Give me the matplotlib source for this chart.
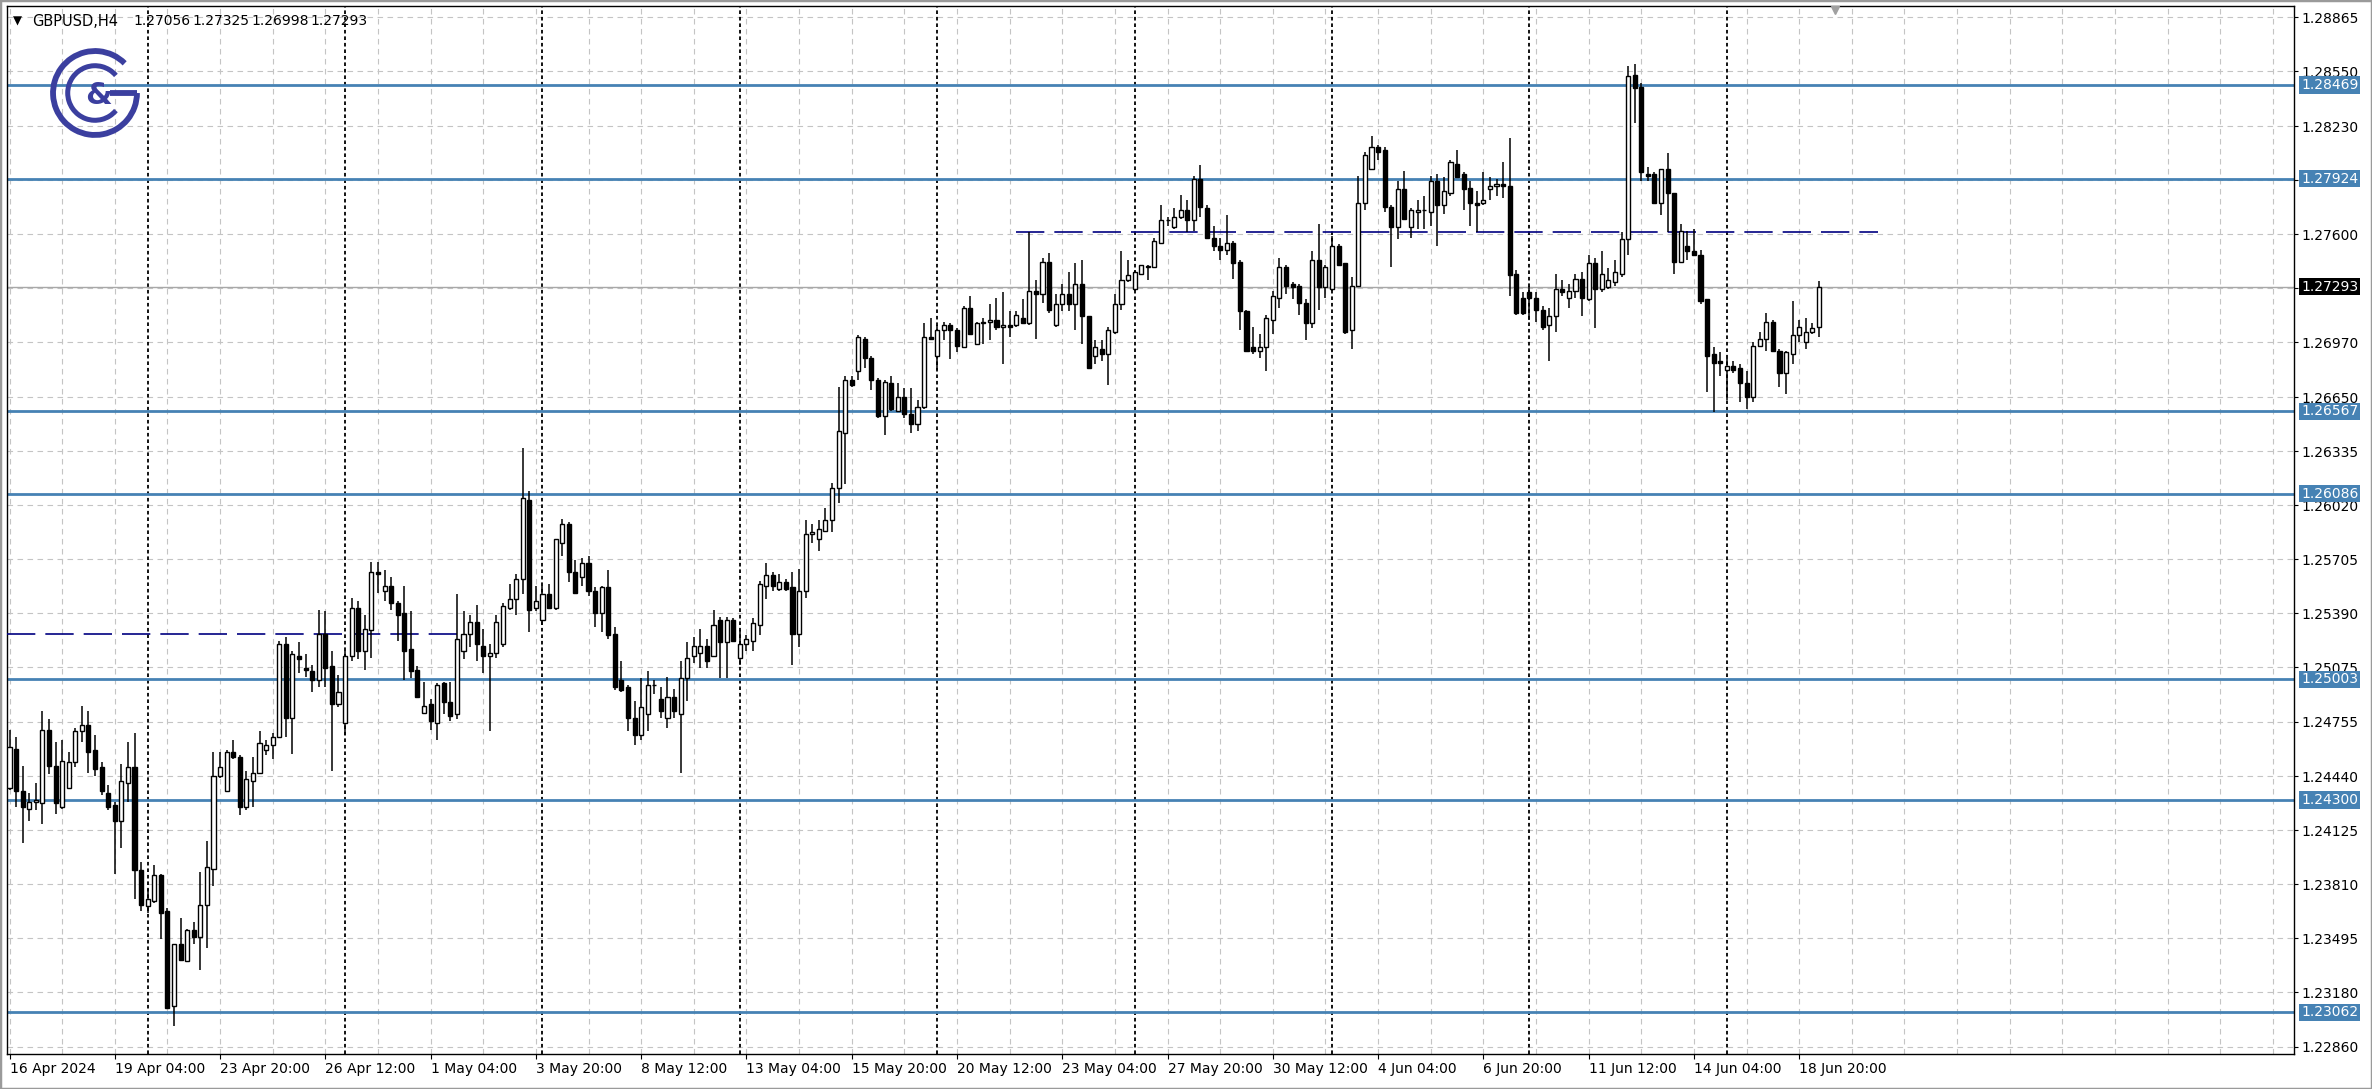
import matplotlib
matplotlib.use("Agg")
import matplotlib.pyplot as plt
from matplotlib.patches import Arc, Rectangle
from matplotlib.transforms import blended_transform_factory
import numpy as np

# GBPUSD H4 candles, 16 Apr 2024 12:00 .. 19 Jun 2024 08:00
opens = [
    1.2437, 1.2460, 1.2435, 1.2425, 1.2429, 1.2428, 1.2471, 1.2450, 1.2426, 1.2437,
    1.2452, 1.2470, 1.2474, 1.2459, 1.2449, 1.2434, 1.2427, 1.2418, 1.2440, 1.2449,
    1.2389, 1.2368, 1.2371, 1.2386, 1.2365, 1.2310, 1.2346, 1.2336, 1.2354, 1.2350,
    1.2369, 1.2390, 1.2444, 1.2435, 1.2458, 1.2455, 1.2426, 1.2441, 1.2446, 1.2459,
    1.2462, 1.2467, 1.2521, 1.2478, 1.2514, 1.2507, 1.2505, 1.2500, 1.2527, 1.2508,
    1.2486, 1.2475, 1.2514, 1.2542, 1.2517, 1.2529, 1.2563, 1.2552, 1.2555, 1.2545,
    1.2539, 1.2518, 1.2506, 1.2481, 1.2486, 1.2475, 1.2498, 1.2487, 1.2480, 1.2517,
    1.2527, 1.2534, 1.2520, 1.2514, 1.2516, 1.2521, 1.2542, 1.2547, 1.2559, 1.2605,
    1.2542, 1.2535, 1.2550, 1.2542, 1.2580, 1.2591, 1.2563, 1.2560, 1.2568, 1.2552,
    1.2539, 1.2554, 1.2527, 1.2500, 1.2496, 1.2478, 1.2468, 1.2480, 1.2497, 1.2489,
    1.2478, 1.2490, 1.2480, 1.2501, 1.2514, 1.2516, 1.2520, 1.2514, 1.2535, 1.2522,
    1.2535, 1.2513, 1.2521, 1.2523, 1.2532, 1.2555, 1.2561, 1.2553, 1.2557, 1.2554,
    1.2527, 1.2552, 1.2585, 1.2582, 1.2587, 1.2593, 1.2612, 1.2644, 1.2675, 1.2680,
    1.2699, 1.2688, 1.2675, 1.2654, 1.2673, 1.2657, 1.2665, 1.2655, 1.2649, 1.2659,
    1.2700, 1.2689, 1.2704, 1.2707, 1.2704, 1.2694, 1.2717, 1.2696, 1.2708, 1.2709,
    1.2710, 1.2706, 1.2707, 1.2707, 1.2711, 1.2708, 1.2727, 1.2725, 1.2744, 1.2707,
    1.2719, 1.2725, 1.2719, 1.2731, 1.2712, 1.2689, 1.2693, 1.2690, 1.2703, 1.2719,
    1.2733, 1.2728, 1.2737, 1.2741, 1.2741, 1.2755, 1.2768, 1.2764, 1.2770, 1.2774,
    1.2768, 1.2792, 1.2775, 1.2758, 1.2753, 1.2751, 1.2755, 1.2744, 1.2715, 1.2694,
    1.2692, 1.2694, 1.2710, 1.2723, 1.2741, 1.2731, 1.2730, 1.2720, 1.2708, 1.2745,
    1.2729, 1.2728, 1.2753, 1.2743, 1.2704, 1.2730, 1.2778, 1.2798, 1.2811, 1.2809,
    1.2776, 1.2764, 1.2786, 1.2764, 1.2773, 1.2774, 1.2773, 1.2791, 1.2777, 1.2784,
    1.2801, 1.2795, 1.2787, 1.2778, 1.2778, 1.2786, 1.2788, 1.2789, 1.2788, 1.2737,
    1.2723, 1.2726, 1.2723, 1.2716, 1.2707, 1.2712, 1.2728, 1.2723, 1.2727, 1.2734,
    1.2722, 1.2743, 1.2728, 1.2729, 1.2732, 1.2737, 1.2757, 1.2853, 1.2846, 1.2795,
    1.2795, 1.2778, 1.2798, 1.2784, 1.2744, 1.2753, 1.2750, 1.2748, 1.2722, 1.2690,
    1.2686, 1.2681, 1.2683, 1.2682, 1.2673, 1.2665, 1.2695, 1.2699, 1.2709, 1.2692,
    1.2679, 1.2690, 1.2701, 1.2697, 1.2703, 1.27056,
]
highs = [
    1.2471, 1.2467, 1.2450, 1.2434, 1.2440, 1.2482, 1.2477, 1.2464, 1.2465, 1.2458,
    1.2472, 1.2485, 1.2482, 1.2468, 1.2452, 1.2439, 1.2429, 1.2451, 1.2464, 1.2469,
    1.2394, 1.2378, 1.2392, 1.2387, 1.2367, 1.2346, 1.2361, 1.2355, 1.2359, 1.2388,
    1.2406, 1.2458, 1.2458, 1.2459, 1.2465, 1.2456, 1.2447, 1.2455, 1.2470, 1.2465,
    1.2469, 1.2523, 1.2525, 1.2517, 1.2522, 1.2515, 1.2509, 1.2541, 1.2540, 1.2517,
    1.2503, 1.2517, 1.2548, 1.2546, 1.2538, 1.2569, 1.2569, 1.2564, 1.2560, 1.2546,
    1.2555, 1.2540, 1.2508, 1.2499, 1.2489, 1.2498, 1.2499, 1.2499, 1.2550, 1.2540,
    1.2538, 1.2544, 1.2530, 1.2521, 1.2538, 1.2545, 1.2556, 1.2562, 1.2635, 1.2610,
    1.2555, 1.2555, 1.2556, 1.2582, 1.2594, 1.2592, 1.2570, 1.2571, 1.2572, 1.2554,
    1.2555, 1.2564, 1.2531, 1.2511, 1.2497, 1.2488, 1.2501, 1.2505, 1.2500, 1.2496,
    1.2502, 1.2495, 1.2511, 1.2522, 1.2525, 1.2530, 1.2524, 1.2541, 1.2537, 1.2537,
    1.2536, 1.2529, 1.2526, 1.2536, 1.2558, 1.2568, 1.2563, 1.2562, 1.2559, 1.2563,
    1.2565, 1.2593, 1.2591, 1.2593, 1.2600, 1.2615, 1.2671, 1.2677, 1.2677, 1.2701,
    1.2700, 1.2689, 1.2676, 1.2675, 1.2677, 1.2673, 1.2670, 1.2670, 1.2663, 1.2708,
    1.2711, 1.2707, 1.2709, 1.2708, 1.2705, 1.2718, 1.2724, 1.2709, 1.2711, 1.2719,
    1.2723, 1.2726, 1.2715, 1.2715, 1.2722, 1.2761, 1.2733, 1.2746, 1.2749, 1.2725,
    1.2731, 1.2738, 1.2743, 1.2745, 1.2712, 1.2698, 1.2698, 1.2706, 1.2725, 1.2750,
    1.2745, 1.2739, 1.2742, 1.2742, 1.2758, 1.2777, 1.2770, 1.2775, 1.2783, 1.2780,
    1.2794, 1.2800, 1.2777, 1.2765, 1.2758, 1.2771, 1.2756, 1.2745, 1.2716, 1.2706,
    1.2702, 1.2713, 1.2727, 1.2746, 1.2742, 1.2732, 1.2731, 1.2722, 1.2750, 1.2766,
    1.2742, 1.2759, 1.2754, 1.2743, 1.2735, 1.2794, 1.2808, 1.2817, 1.2812, 1.2811,
    1.2777, 1.2791, 1.2797, 1.2775, 1.2780, 1.2782, 1.2794, 1.2795, 1.2793, 1.2803,
    1.2809, 1.2796, 1.2791, 1.2785, 1.2796, 1.2793, 1.2792, 1.2802, 1.2816, 1.2739,
    1.2726, 1.2730, 1.2726, 1.2718, 1.2717, 1.2737, 1.2733, 1.2731, 1.2737, 1.2738,
    1.2748, 1.2746, 1.2750, 1.2740, 1.2745, 1.2761, 1.2858, 1.2859, 1.2848, 1.2799,
    1.2796, 1.2798, 1.2807, 1.2784, 1.2766, 1.2762, 1.2763, 1.2751, 1.2722, 1.2694,
    1.2691, 1.2688, 1.2686, 1.2684, 1.2680, 1.2697, 1.2703, 1.2714, 1.2710, 1.2693,
    1.2692, 1.2721, 1.2710, 1.2711, 1.2708, 1.27325,
]
lows = [
    1.2436, 1.2426, 1.2405, 1.2418, 1.2424, 1.2416, 1.2445, 1.2422, 1.2425, 1.2437,
    1.2449, 1.2464, 1.2446, 1.2444, 1.2433, 1.2424, 1.2387, 1.2402, 1.2429, 1.2372,
    1.2365, 1.2364, 1.2370, 1.2349, 1.2308, 1.2298, 1.2337, 1.2336, 1.2346, 1.2331,
    1.2344, 1.2380, 1.2443, 1.2435, 1.2454, 1.2421, 1.2424, 1.2426, 1.2445, 1.2456,
    1.2454, 1.2466, 1.2467, 1.2457, 1.2504, 1.2502, 1.2493, 1.2496, 1.2496, 1.2447,
    1.2484, 1.2468, 1.2511, 1.2512, 1.2506, 1.2513, 1.2551, 1.2546, 1.2541, 1.2523,
    1.2500, 1.2501, 1.2490, 1.2480, 1.2471, 1.2465, 1.2480, 1.2476, 1.2477, 1.2512,
    1.2519, 1.2511, 1.2504, 1.2470, 1.2513, 1.2519, 1.2541, 1.2538, 1.2550, 1.2528,
    1.2540, 1.2532, 1.2542, 1.2541, 1.2572, 1.2557, 1.2551, 1.2555, 1.2549, 1.2531,
    1.2528, 1.2524, 1.2494, 1.2493, 1.2470, 1.2462, 1.2465, 1.2470, 1.2492, 1.2478,
    1.2472, 1.2478, 1.2446, 1.2488, 1.2510, 1.2507, 1.2507, 1.2514, 1.2501, 1.2501,
    1.2522, 1.2509, 1.2517, 1.2517, 1.2526, 1.2547, 1.2552, 1.2552, 1.2552, 1.2509,
    1.2519, 1.2548, 1.2580, 1.2575, 1.2586, 1.2586, 1.2603, 1.2614, 1.2671, 1.2675,
    1.2682, 1.2669, 1.2653, 1.2643, 1.2657, 1.2656, 1.2653, 1.2644, 1.2645, 1.2658,
    1.2698, 1.2681, 1.2698, 1.2687, 1.2691, 1.2694, 1.2701, 1.2696, 1.2696, 1.2698,
    1.2704, 1.2684, 1.2700, 1.2706, 1.2708, 1.2707, 1.2699, 1.2720, 1.2714, 1.2706,
    1.2715, 1.2715, 1.2704, 1.2696, 1.2682, 1.2684, 1.2686, 1.2672, 1.2702, 1.2716,
    1.2732, 1.2727, 1.2736, 1.2733, 1.2740, 1.2754, 1.2765, 1.2763, 1.2769, 1.2761,
    1.2762, 1.2770, 1.2757, 1.2750, 1.2745, 1.2748, 1.2734, 1.2704, 1.2691, 1.2690,
    1.2688, 1.2680, 1.2702, 1.2717, 1.2725, 1.2722, 1.2713, 1.2698, 1.2705, 1.2716,
    1.2723, 1.2727, 1.2742, 1.2702, 1.2693, 1.2729, 1.2774, 1.2798, 1.2803, 1.2773,
    1.2741, 1.2757, 1.2768, 1.2758, 1.2763, 1.2763, 1.2765, 1.2753, 1.2772, 1.2782,
    1.2793, 1.2774, 1.2765, 1.2761, 1.2777, 1.2780, 1.2782, 1.2781, 1.2724, 1.2713,
    1.2713, 1.2710, 1.2709, 1.2704, 1.2686, 1.2703, 1.2724, 1.2717, 1.2723, 1.2712,
    1.2721, 1.2705, 1.2726, 1.2728, 1.2730, 1.2735, 1.2748, 1.2825, 1.2791, 1.2791,
    1.2778, 1.2771, 1.2761, 1.2737, 1.2744, 1.2745, 1.2747, 1.2719, 1.2668, 1.2656,
    1.2677, 1.2663, 1.2679, 1.2662, 1.2658, 1.2662, 1.2694, 1.2692, 1.2691, 1.2671,
    1.2667, 1.2684, 1.2697, 1.2693, 1.2702, 1.26998,
]
closes = [
    1.2461, 1.2435, 1.2426, 1.2429, 1.2430, 1.2471, 1.2450, 1.2428, 1.2453, 1.2452,
    1.2470, 1.2474, 1.2458, 1.2448, 1.2435, 1.2426, 1.2418, 1.2441, 1.2449, 1.2389,
    1.2369, 1.2372, 1.2386, 1.2364, 1.2309, 1.2346, 1.2337, 1.2354, 1.2350, 1.2369,
    1.2391, 1.2444, 1.2449, 1.2458, 1.2455, 1.2426, 1.2442, 1.2446, 1.2463, 1.2462,
    1.2467, 1.2521, 1.2478, 1.2515, 1.2512, 1.2506, 1.2500, 1.2527, 1.2507, 1.2486,
    1.2493, 1.2514, 1.2542, 1.2517, 1.2530, 1.2563, 1.2562, 1.2555, 1.2545, 1.2538,
    1.2517, 1.2505, 1.2490, 1.2485, 1.2476, 1.2497, 1.2487, 1.2479, 1.2524, 1.2527,
    1.2534, 1.2521, 1.2514, 1.2516, 1.2534, 1.2543, 1.2547, 1.2559, 1.2606, 1.2541,
    1.2546, 1.2550, 1.2542, 1.2582, 1.2591, 1.2563, 1.2551, 1.2568, 1.2552, 1.2539,
    1.2554, 1.2526, 1.2496, 1.2494, 1.2478, 1.2468, 1.2484, 1.2497, 1.2497, 1.2482,
    1.2490, 1.2482, 1.2501, 1.2513, 1.2520, 1.2520, 1.2511, 1.2532, 1.2522, 1.2535,
    1.2523, 1.2521, 1.2524, 1.2533, 1.2556, 1.2561, 1.2555, 1.2557, 1.2553, 1.2527,
    1.2552, 1.2585, 1.2586, 1.2588, 1.2593, 1.2612, 1.2645, 1.2675, 1.2672, 1.2700,
    1.2688, 1.2675, 1.2654, 1.2674, 1.2658, 1.2665, 1.2655, 1.2649, 1.2659, 1.2700,
    1.2699, 1.2704, 1.2707, 1.2704, 1.2695, 1.2717, 1.2702, 1.2708, 1.2709, 1.2710,
    1.2706, 1.2707, 1.2706, 1.2713, 1.2708, 1.2727, 1.2725, 1.2744, 1.2716, 1.2719,
    1.2725, 1.2719, 1.2731, 1.2712, 1.2682, 1.2694, 1.2690, 1.2704, 1.2719, 1.2733,
    1.2736, 1.2738, 1.2742, 1.2741, 1.2756, 1.2768, 1.2768, 1.2770, 1.2774, 1.2768,
    1.2792, 1.2776, 1.2758, 1.2753, 1.2751, 1.2755, 1.2743, 1.2715, 1.2692, 1.2692,
    1.2694, 1.2711, 1.2724, 1.2741, 1.2730, 1.2729, 1.2720, 1.2708, 1.2745, 1.2729,
    1.2741, 1.2753, 1.2742, 1.2703, 1.2730, 1.2778, 1.2806, 1.2811, 1.2808, 1.2776,
    1.2764, 1.2786, 1.2769, 1.2774, 1.2774, 1.2774, 1.2791, 1.2777, 1.2785, 1.2802,
    1.2793, 1.2786, 1.2778, 1.2777, 1.2780, 1.2788, 1.2789, 1.2788, 1.2736, 1.2714,
    1.2714, 1.2723, 1.2716, 1.2706, 1.2712, 1.2728, 1.2726, 1.2727, 1.2734, 1.2723,
    1.2743, 1.2728, 1.2737, 1.2733, 1.2738, 1.2757, 1.2852, 1.2845, 1.2796, 1.2794,
    1.2778, 1.2798, 1.2784, 1.2744, 1.2762, 1.2750, 1.2748, 1.2721, 1.2689, 1.2685,
    1.2685, 1.2683, 1.2681, 1.2673, 1.2665, 1.2695, 1.2699, 1.2709, 1.2692, 1.2679,
    1.2691, 1.2701, 1.2706, 1.2703, 1.2705, 1.27293,
]

level_prices = [1.28469, 1.27924, 1.26567, 1.26086, 1.25003, 1.24300, 1.23062]
bid_price = 1.27293
trend_from = [-0.4, 153]
trend_to = [69, 284]
trend_price = [1.2527, 1.2761]

price_ticks = [1.28865, 1.28550, 1.28230, 1.27915, 1.27600, 1.27285, 1.26970,
               1.26650, 1.26335, 1.26020, 1.25705, 1.25390, 1.25075, 1.24755,
               1.24440, 1.24125, 1.23810, 1.23495, 1.23180, 1.22860]
date_labels = ["16 Apr 2024", "19 Apr 04:00", "23 Apr 20:00", "26 Apr 12:00",
               "1 May 04:00", "3 May 20:00", "8 May 12:00", "13 May 04:00",
               "15 May 20:00", "20 May 12:00", "23 May 04:00", "27 May 20:00",
               "30 May 12:00", "4 Jun 04:00", "6 Jun 20:00", "11 Jun 12:00",
               "14 Jun 04:00", "18 Jun 20:00"]

W, H = 2372, 1089
fig = plt.figure(figsize=(W / 100, H / 100), dpi=100)
fig.patch.set_facecolor("white")
ax = fig.add_axes([7 / W, 1 - 1054 / H, 2287 / W, 1048 / H])
ax.set_xlim(-0.38, 347.2)
ax.set_ylim(1.22819, 1.28930)

# grid, week separators
for p in price_ticks:
    ax.axhline(p, color="#c4c4c4", lw=0.8, ls=(0, (5, 4)), zorder=0)
for i in range(0, 348, 8):
    ax.axvline(i, color="#c4c4c4", lw=0.8, ls=(0, (5, 4)), zorder=0)
for i in range(21, len(opens), 30):
    ax.axvline(i, color="black", lw=1.3, ls=(0, (2, 1.6)), zorder=1)

# levels and bid line
for p in level_prices:
    ax.axhline(p, color="#4682b4", lw=2.0, zorder=2)
ax.axhline(bid_price, color="#a8a8a8", lw=1.0, zorder=1.5)
for x0, x1, p in zip(trend_from, trend_to, trend_price):
    ax.plot([x0, x1], [p, p], color="#000080", lw=1.2, ls=(0, (17, 6)), zorder=3)

# candles
o, h, l, c = map(np.array, (opens, highs, lows, closes))
idx = np.arange(len(o))
bull = c >= o
ax.vlines(idx, l, h, color="black", lw=1.1, zorder=4)
body_h = np.maximum(np.abs(c - o), 0.000015)
ax.bar(idx, body_h, bottom=np.minimum(o, c), width=0.62,
       color=np.where(bull, "white", "black"), edgecolor="black",
       linewidth=1.0, zorder=5)

# axes styling
for s in ax.spines.values():
    s.set_color("black")
    s.set_linewidth(1.0)
ax.yaxis.tick_right()
ax.set_yticks(price_ticks)
ax.set_yticklabels([f"{p:.5f}" for p in price_ticks])
ax.tick_params(axis="y", direction="out", length=3, width=0.8, pad=2.2,
               labelsize=10, colors="black")
ax.set_xticks(range(0, 16 * len(date_labels), 16))
ax.set_xticklabels(date_labels)
ax.tick_params(axis="x", direction="out", length=3.5, width=0.8, pad=2,
               labelsize=10, colors="black")
for t in ax.get_xticklabels():
    t.set_ha("left")

# right-hand price boxes
tr = blended_transform_factory(ax.transAxes, ax.transData)
xl = 1 + 7 / 2287
for p in level_prices:
    ax.text(xl, p, f"{p:.5f}", transform=tr, ha="left", va="center", fontsize=10,
            color="white", clip_on=False, zorder=10,
            bbox=dict(boxstyle="square,pad=0.12", fc="#4682b4", ec="none"))
ax.text(xl, bid_price, f"{bid_price:.5f}", transform=tr, ha="left", va="center",
        fontsize=10, color="white", clip_on=False, zorder=10,
        bbox=dict(boxstyle="square,pad=0.12", fc="black", ec="none"))

# chart shift marker
ax.plot([277.4], [1.28905], marker="v", color="#a0a0a0", markersize=6,
        clip_on=False, zorder=6)

# header
def ftext(x, y, s, **kw):
    fig.text(x / W, 1 - y / H, s, va="center", ha="left", **kw)

ftext(13, 21, "\u25bc", fontsize=8.5, color="black")
ftext(32, 21, "GBPUSD,H4", fontsize=10.5, color="black")
for x, s in zip([133, 192, 251, 310], ["1.27056", "1.27325", "1.26998", "1.27293"]):
    ftext(x, 21, s, fontsize=10, color="black")

# logo
logo = fig.add_axes([48 / W, 1 - 140 / H, 94 / W, 94 / H])
logo.set_xlim(-1.12, 1.12)
logo.set_ylim(-1.12, 1.12)
logo.set_aspect("equal")
logo.axis("off")
blue = "#3b3f9f"
logo.add_patch(Arc((0, 0), 2.0, 2.0, theta1=45, theta2=360, color=blue, lw=4.2))
logo.plot([0.35, 1.0], [0, 0], color=blue, lw=4.2, solid_capstyle="butt")
logo.add_patch(Arc((0, 0), 1.3, 1.3, theta1=40, theta2=320, color=blue, lw=3.6))
logo.text(0.08, -0.05, "&", fontsize=22, fontweight="bold", color=blue,
          ha="center", va="center")

# window frame
fig.patches.append(Rectangle((0, 0), 1, 1, transform=fig.transFigure, fill=False,
                             ec="#9a9a9a", lw=2.5))

fig.savefig("out.png", dpi=100)
